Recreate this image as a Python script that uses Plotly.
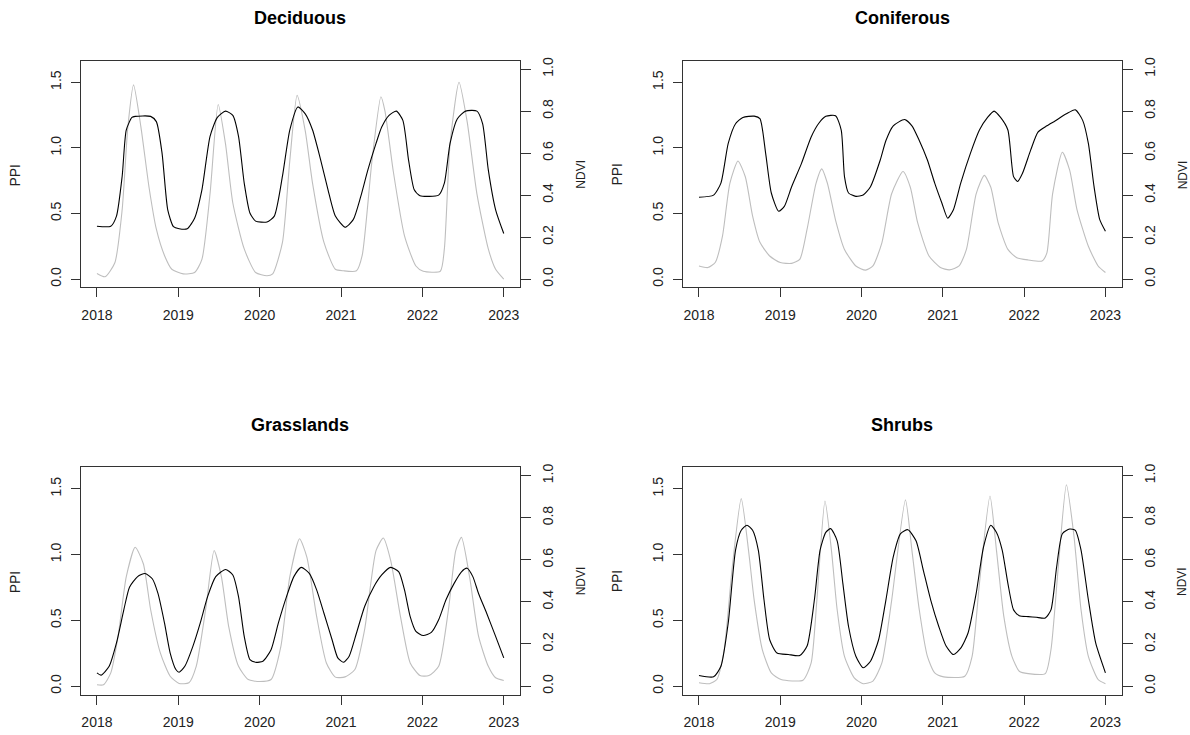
import plotly.graph_objects as go

# ---------------- data ----------------
year_ticks = [2018, 2019, 2020, 2021, 2022, 2023]
ppi_ticks = [0.0, 0.5, 1.0, 1.5]
ndvi_ticks = [0.0, 0.2, 0.4, 0.6, 0.8, 1.0]
titles = ["Deciduous", "Coniferous", "Grasslands", "Shrubs"]

# Deciduous
dec_ppi_t = [2018.0, 2018.1, 2018.22, 2018.31, 2018.38, 2018.45, 2018.54, 2018.64, 2018.73, 2018.83, 2018.92,
             2019.06, 2019.2, 2019.29, 2019.39, 2019.49, 2019.58, 2019.67, 2019.81, 2019.95,
             2020.09, 2020.16, 2020.28, 2020.37, 2020.46, 2020.56, 2020.65, 2020.79, 2020.93,
             2021.03, 2021.19, 2021.26, 2021.38, 2021.49, 2021.54, 2021.64, 2021.78, 2021.92,
             2022.01, 2022.22, 2022.27, 2022.34, 2022.45, 2022.55, 2022.67, 2022.81, 2022.9, 2023.0]
dec_ppi = [0.043, 0.018, 0.125, 0.53, 1.16, 1.48, 1.16, 0.70, 0.38, 0.18, 0.075,
           0.04, 0.05, 0.15, 0.65, 1.33, 1.03, 0.58, 0.23, 0.05,
           0.025, 0.04, 0.28, 0.90, 1.40, 1.13, 0.73, 0.28, 0.075,
           0.063, 0.063, 0.18, 0.90, 1.39, 1.28, 0.83, 0.33, 0.10,
           0.06, 0.06, 0.23, 1.03, 1.50, 1.20, 0.65, 0.23, 0.075, 0.0]
dec_ndvi_t = [2018.0, 2018.17, 2018.24, 2018.31, 2018.36, 2018.43, 2018.47, 2018.66, 2018.73, 2018.8, 2018.87, 2018.94,
              2019.01, 2019.11, 2019.2, 2019.29, 2019.39, 2019.48, 2019.58, 2019.67, 2019.74, 2019.81, 2019.88, 2019.95,
              2020.09, 2020.18, 2020.28, 2020.37, 2020.47, 2020.56, 2020.65, 2020.75, 2020.84, 2020.93,
              2021.05, 2021.15, 2021.24, 2021.33, 2021.43, 2021.5, 2021.59, 2021.68, 2021.76, 2021.83, 2021.9, 2021.97,
              2022.2, 2022.27, 2022.34, 2022.43, 2022.53, 2022.67, 2022.74, 2022.81, 2022.9, 2023.0]
dec_ndvi = [0.252, 0.252, 0.30, 0.49, 0.71, 0.77, 0.775, 0.775, 0.75, 0.60, 0.33, 0.25,
            0.24, 0.24, 0.29, 0.425, 0.68, 0.77, 0.80, 0.78, 0.68, 0.457, 0.315, 0.276,
            0.272, 0.30, 0.49, 0.71, 0.82, 0.787, 0.71, 0.567, 0.425, 0.30,
            0.247, 0.283, 0.39, 0.52, 0.646, 0.724, 0.78, 0.80, 0.756, 0.567, 0.425, 0.397,
            0.40, 0.457, 0.646, 0.764, 0.80, 0.80, 0.74, 0.52, 0.33, 0.217]

# Coniferous
con_ppi_t = [2018.0, 2018.11, 2018.2, 2018.29, 2018.38, 2018.48, 2018.57, 2018.66, 2018.75, 2018.87,
             2019.0, 2019.14, 2019.24, 2019.33, 2019.44, 2019.51, 2019.58, 2019.68, 2019.79, 2019.93,
             2020.05, 2020.14, 2020.25, 2020.37, 2020.51, 2020.6, 2020.69, 2020.83, 2020.97,
             2021.08, 2021.2, 2021.29, 2021.41, 2021.51, 2021.59, 2021.68, 2021.8, 2021.91,
             2022.05, 2022.22, 2022.28, 2022.35, 2022.47, 2022.56, 2022.65, 2022.79, 2022.91, 2023.0]
con_ppi = [0.10, 0.088, 0.126, 0.33, 0.73, 0.90, 0.78, 0.48, 0.28, 0.176,
           0.126, 0.12, 0.15, 0.38, 0.73, 0.84, 0.73, 0.45, 0.226, 0.10,
           0.068, 0.10, 0.276, 0.65, 0.82, 0.70, 0.43, 0.176, 0.088,
           0.07, 0.10, 0.226, 0.65, 0.79, 0.70, 0.43, 0.226, 0.163,
           0.146, 0.138, 0.20, 0.65, 0.967, 0.83, 0.53, 0.25, 0.10, 0.05]
con_ndvi_t = [2018.0, 2018.18, 2018.27, 2018.36, 2018.45, 2018.54, 2018.68, 2018.75, 2018.82, 2018.89, 2018.98,
              2019.05, 2019.14, 2019.26, 2019.38, 2019.47, 2019.56, 2019.68, 2019.75, 2019.79, 2019.84, 2019.93,
              2020.02, 2020.11, 2020.23, 2020.3, 2020.39, 2020.53, 2020.62, 2020.71, 2020.81, 2020.9, 2020.99,
              2021.06, 2021.13, 2021.22, 2021.34, 2021.45, 2021.55, 2021.63, 2021.71, 2021.8, 2021.87, 2021.92, 2021.98,
              2022.08, 2022.17, 2022.28, 2022.38, 2022.52, 2022.63, 2022.72, 2022.79, 2022.86, 2022.93, 2023.0]
con_ndvi = [0.39, 0.40, 0.457, 0.646, 0.74, 0.77, 0.776, 0.764, 0.60, 0.41, 0.323,
            0.346, 0.44, 0.55, 0.677, 0.74, 0.775, 0.778, 0.71, 0.488, 0.41, 0.394,
            0.40, 0.44, 0.567, 0.66, 0.73, 0.76, 0.73, 0.66, 0.567, 0.457, 0.36,
            0.29, 0.33, 0.457, 0.60, 0.71, 0.77, 0.80, 0.77, 0.71, 0.488, 0.465, 0.504,
            0.614, 0.70, 0.73, 0.753, 0.787, 0.806, 0.756, 0.646, 0.44, 0.283, 0.228]

# Grasslands
gra_ppi_t = [2018.0, 2018.08, 2018.17, 2018.26, 2018.36, 2018.47, 2018.57, 2018.66, 2018.78, 2018.9,
             2019.01, 2019.13, 2019.22, 2019.34, 2019.44, 2019.53, 2019.62, 2019.74, 2019.86,
             2020.0, 2020.14, 2020.26, 2020.37, 2020.49, 2020.58, 2020.7, 2020.82, 2020.93,
             2021.05, 2021.17, 2021.29, 2021.43, 2021.52, 2021.61, 2021.73, 2021.85, 2021.97,
             2022.08, 2022.2, 2022.32, 2022.41, 2022.48, 2022.58, 2022.69, 2022.81, 2022.9, 2023.0]
gra_ppi = [0.01, 0.01, 0.10, 0.38, 0.83, 1.055, 0.93, 0.58, 0.25, 0.075,
           0.02, 0.025, 0.15, 0.60, 1.03, 0.83, 0.45, 0.15, 0.05,
           0.035, 0.05, 0.30, 0.83, 1.12, 0.98, 0.53, 0.176, 0.068,
           0.07, 0.126, 0.43, 1.03, 1.125, 0.955, 0.53, 0.176, 0.08,
           0.08, 0.15, 0.58, 1.03, 1.13, 0.83, 0.38, 0.15, 0.063, 0.043]
gra_ndvi_t = [2018.0, 2018.05, 2018.15, 2018.24, 2018.33, 2018.4, 2018.5, 2018.59, 2018.68, 2018.75, 2018.83, 2018.9, 2018.97,
              2019.01, 2019.08, 2019.18, 2019.27, 2019.36, 2019.46, 2019.58, 2019.67, 2019.74, 2019.81, 2019.88, 2019.95,
              2020.04, 2020.14, 2020.23, 2020.33, 2020.42, 2020.51, 2020.61, 2020.7, 2020.79, 2020.89, 2020.96,
              2021.03, 2021.1, 2021.19, 2021.29, 2021.4, 2021.5, 2021.61, 2021.71, 2021.78, 2021.85, 2021.92,
              2022.01, 2022.11, 2022.2, 2022.29, 2022.39, 2022.48, 2022.55, 2022.62, 2022.69, 2022.79, 2022.9, 2023.0]
gra_ndvi = [0.063, 0.052, 0.094, 0.205, 0.362, 0.47, 0.52, 0.535, 0.51, 0.44, 0.30, 0.157, 0.079,
            0.066, 0.094, 0.19, 0.30, 0.425, 0.52, 0.554, 0.528, 0.425, 0.236, 0.126, 0.113,
            0.118, 0.173, 0.30, 0.425, 0.52, 0.564, 0.535, 0.457, 0.346, 0.22, 0.134,
            0.113, 0.142, 0.252, 0.378, 0.47, 0.528, 0.564, 0.543, 0.457, 0.33, 0.26,
            0.24, 0.255, 0.315, 0.41, 0.488, 0.543, 0.56, 0.52, 0.44, 0.346, 0.236, 0.134]

# Shrubs
shr_ppi_t = [2018.0, 2018.13, 2018.22, 2018.31, 2018.41, 2018.52, 2018.61, 2018.68, 2018.78, 2018.89,
             2019.01, 2019.28, 2019.38, 2019.45, 2019.55, 2019.63, 2019.7, 2019.79, 2019.91,
             2020.02, 2020.14, 2020.25, 2020.37, 2020.54, 2020.62, 2020.71, 2020.81, 2020.9,
             2021.01, 2021.27, 2021.36, 2021.45, 2021.58, 2021.66, 2021.75, 2021.85, 2021.94,
             2022.05, 2022.26, 2022.33, 2022.42, 2022.52, 2022.61, 2022.7, 2022.79, 2022.91, 2023.0]
shr_ppi = [0.025, 0.018, 0.05, 0.276, 0.905, 1.425, 1.03, 0.65, 0.276, 0.10,
           0.05, 0.045, 0.176, 0.65, 1.407, 1.03, 0.58, 0.226, 0.063,
           0.018, 0.038, 0.176, 0.65, 1.415, 1.03, 0.58, 0.226, 0.10,
           0.07, 0.075, 0.226, 0.78, 1.445, 1.03, 0.53, 0.226, 0.113,
           0.095, 0.095, 0.276, 0.905, 1.53, 1.156, 0.58, 0.226, 0.05, 0.018]
shr_ndvi_t = [2018.0, 2018.18, 2018.27, 2018.36, 2018.45, 2018.52, 2018.59, 2018.66, 2018.73, 2018.8, 2018.87, 2018.96,
              2019.1, 2019.24, 2019.33, 2019.42, 2019.49, 2019.56, 2019.62, 2019.7, 2019.77, 2019.84, 2019.93,
              2020.02, 2020.11, 2020.21, 2020.3, 2020.39, 2020.48, 2020.57, 2020.67, 2020.76, 2020.85, 2020.95,
              2021.04, 2021.13, 2021.22, 2021.31, 2021.41, 2021.5, 2021.59, 2021.66, 2021.73, 2021.8, 2021.87, 2021.94,
              2022.05, 2022.15, 2022.26, 2022.33, 2022.4, 2022.47, 2022.56, 2022.63, 2022.7, 2022.79, 2022.88, 2023.0]
shr_ndvi = [0.05, 0.044, 0.094, 0.30, 0.646, 0.74, 0.764, 0.74, 0.646, 0.41, 0.22, 0.157,
            0.15, 0.145, 0.19, 0.41, 0.646, 0.73, 0.748, 0.69, 0.488, 0.283, 0.142,
            0.087, 0.118, 0.22, 0.41, 0.614, 0.724, 0.743, 0.69, 0.55, 0.41, 0.283,
            0.19, 0.15, 0.18, 0.252, 0.44, 0.66, 0.764, 0.73, 0.646, 0.488, 0.362, 0.334,
            0.33, 0.327, 0.323, 0.362, 0.567, 0.724, 0.746, 0.74, 0.646, 0.41, 0.205, 0.063]

panels = [
    (dec_ppi_t, dec_ppi, dec_ndvi_t, dec_ndvi),
    (con_ppi_t, con_ppi, con_ndvi_t, con_ndvi),
    (gra_ppi_t, gra_ppi, gra_ndvi_t, gra_ndvi),
    (shr_ppi_t, shr_ppi, shr_ndvi_t, shr_ndvi),
]

# ---------------- layout ----------------
W, H = 1190, 735
FONT = "Liberation Sans, Arial, sans-serif"
AXC = "#333333"
x_doms = [[0.0678, 0.4370], [0.5737, 0.9426]]
y_doms = [[0.6122, 0.9224], [0.0554, 0.3664]]

fig = go.Figure()
layout = dict(
    width=W, height=H, margin=dict(l=0, r=0, t=0, b=0),
    paper_bgcolor="white", plot_bgcolor="white", showlegend=False,
    font=dict(family=FONT, size=14, color="#222222"),
)
annotations = []

for i, (pt, pv, nt, nv) in enumerate(panels):
    row, col = divmod(i, 2)
    xn = i + 1
    yl = 2 * i + 1
    yr = 2 * i + 2
    xk = "xaxis" if xn == 1 else f"xaxis{xn}"
    ylk = "yaxis" if yl == 1 else f"yaxis{yl}"
    yrk = f"yaxis{yr}"
    xref = "x" if xn == 1 else f"x{xn}"
    ylref = "y" if yl == 1 else f"y{yl}"
    yrref = f"y{yr}"

    fig.add_trace(go.Scatter(x=pt, y=pv, mode="lines", xaxis=xref, yaxis=ylref,
                             line=dict(color="#BEBEBE", width=1.1, shape="spline", smoothing=0.6),
                             hoverinfo="skip"))
    fig.add_trace(go.Scatter(x=nt, y=nv, mode="lines", xaxis=xref, yaxis=yrref,
                             line=dict(color="#000000", width=1.1, shape="spline", smoothing=0.6),
                             hoverinfo="skip"))

    layout[xk] = dict(domain=x_doms[col], anchor=ylref, range=[2017.8, 2023.2],
                      tickmode="array", tickvals=year_ticks, ticktext=[str(y) for y in year_ticks],
                      ticks="outside", ticklen=9, tickwidth=1, tickcolor=AXC,
                      showline=True, linecolor=AXC, linewidth=1, mirror=True,
                      showgrid=False, zeroline=False, ticklabelstandoff=6,
                      tickfont=dict(size=14, family=FONT, color="#222222"))
    layout[ylk] = dict(domain=y_doms[row], anchor=xref, range=[-0.064, 1.664],
                       tickmode="array", tickvals=ppi_ticks, ticktext=[f"{v:.1f}" for v in ppi_ticks],
                       tickangle=-90, ticks="outside", ticklen=9, tickwidth=1, tickcolor=AXC,
                       showline=True, linecolor=AXC, linewidth=1, mirror=True,
                       showgrid=False, zeroline=False, ticklabelstandoff=4,
                       tickfont=dict(size=14, family=FONT, color="#222222"))
    layout[yrk] = dict(domain=y_doms[row], anchor=xref, overlaying=ylref, side="right",
                       range=[-0.04, 1.04],
                       tickmode="array", tickvals=ndvi_ticks, ticktext=[f"{v:.1f}" for v in ndvi_ticks],
                       tickangle=-90, ticks="outside", ticklen=10, tickwidth=1, tickcolor=AXC,
                       showline=False, showgrid=False, zeroline=False, ticklabelstandoff=5,
                       tickfont=dict(size=14, family=FONT, color="#222222"))

    x0 = x_doms[col][0] * W
    x1 = x_doms[col][1] * W
    ytop = (1 - y_doms[row][1]) * H
    cx = (x0 + x1) / 2
    cy = (ytop + (1 - y_doms[row][0]) * H) / 2 + 0.5
    # title
    annotations.append(dict(text=f"<b>{titles[i]}</b>", x=cx / W, y=1 - (ytop - 42.5) / H,
                            xref="paper", yref="paper", xanchor="center", yanchor="middle",
                            showarrow=False, font=dict(size=18, family=FONT, color="#000000")))
    # PPI label
    annotations.append(dict(text="PPI", x=(x0 - 65.7) / W, y=1 - cy / H, textangle=-90,
                            xref="paper", yref="paper", xanchor="center", yanchor="middle",
                            showarrow=False, font=dict(size=14, family=FONT, color="#222222")))
    # NDVI label
    annotations.append(dict(text="NDVI", x=(x1 + 61) / W, y=1 - cy / H, textangle=-90,
                            xref="paper", yref="paper", xanchor="center", yanchor="middle",
                            showarrow=False, font=dict(size=12, family=FONT, color="#222222")))

layout["annotations"] = annotations
fig.update_layout(**layout)
fig.write_html("out.html")
